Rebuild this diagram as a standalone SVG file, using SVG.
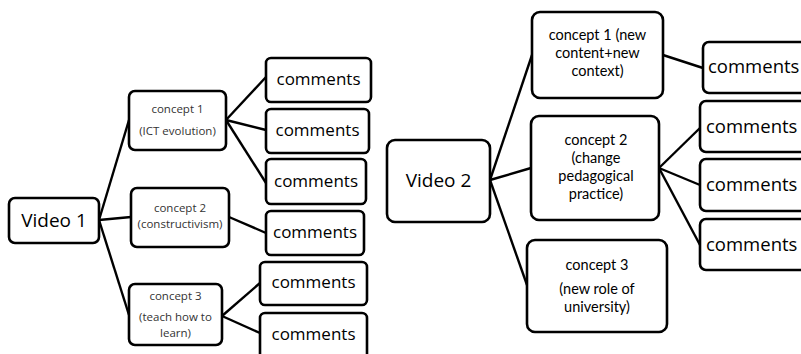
<svg xmlns="http://www.w3.org/2000/svg" width="801" height="354" viewBox="0 0 801 354">
<style>
.box{fill:#fff;stroke:#000;stroke-width:2.6}
.ln{stroke:#000;stroke-width:2.4;fill:none}
text{font-family:"Open Sans","Noto Sans","Liberation Sans",sans-serif;fill:#000;text-anchor:middle}
.vid{font-size:19px}
.cm{font-size:17px}
.cmr{font-size:18.5px;text-anchor:start}
.cs{font-size:11.5px;fill:#333}
.cl{font-family:Lato,"Open Sans",sans-serif;font-size:14.5px}
</style>
<rect width="801" height="354" fill="#fff"/>
<g id="connectors">
<line class="ln" x1="99" y1="220" x2="129" y2="120"/>
<line class="ln" x1="99" y1="220" x2="131" y2="217"/>
<line class="ln" x1="99" y1="220" x2="129" y2="315"/>
<line class="ln" x1="226" y1="120" x2="266" y2="77"/>
<line class="ln" x1="226" y1="120" x2="266" y2="130"/>
<line class="ln" x1="226" y1="120" x2="266" y2="183"/>
<line class="ln" x1="229" y1="217" x2="266" y2="233"/>
<line class="ln" x1="222" y1="316" x2="260" y2="283"/>
<line class="ln" x1="222" y1="316" x2="260" y2="333"/>
<line class="ln" x1="490" y1="180" x2="532" y2="55"/>
<line class="ln" x1="490" y1="180" x2="531" y2="168"/>
<line class="ln" x1="490" y1="180" x2="527" y2="285"/>
<line class="ln" x1="663" y1="55" x2="703" y2="68"/>
<line class="ln" x1="659" y1="168" x2="700" y2="128"/>
<line class="ln" x1="659" y1="168" x2="700" y2="185"/>
<line class="ln" x1="659" y1="168" x2="700" y2="245"/>
</g>
<g id="video1"><rect class="box" x="9" y="198" width="90" height="45" rx="6"/><text class="vid" x="54" y="227">Video 1</text></g>
<g id="v1-concept1"><rect class="box" x="129" y="91" width="97" height="59" rx="6"/><text class="cs" x="177.5" y="113">concept 1</text><text class="cs" x="177.5" y="135">(ICT evolution)</text></g>
<g id="v1-concept2"><rect class="box" x="131" y="188" width="98" height="59" rx="6"/><text class="cs" x="180" y="212">concept 2</text><text class="cs" x="180" y="228">(constructivism)</text></g>
<g id="v1-concept3"><rect class="box" x="129" y="284" width="93" height="61" rx="6"/><text class="cs" x="175.5" y="300">concept 3</text><text class="cs" x="175.5" y="321">(teach how to</text><text class="cs" x="175.5" y="337">learn)</text></g>
<g id="v1-c1-comments1"><rect class="box" x="266" y="58" width="105" height="44" rx="5"/><text class="cm" x="318.5" y="85">comments</text></g>
<g id="v1-c1-comments2"><rect class="box" x="266" y="109" width="103" height="44" rx="5"/><text class="cm" x="317.5" y="136">comments</text></g>
<g id="v1-c1-comments3"><rect class="box" x="266" y="159" width="100" height="45" rx="5"/><text class="cm" x="316" y="187">comments</text></g>
<g id="v1-c2-comments"><rect class="box" x="266" y="211" width="98" height="44" rx="5"/><text class="cm" x="315" y="238">comments</text></g>
<g id="v1-c3-comments1"><rect class="box" x="260" y="262" width="107" height="43" rx="5"/><text class="cm" x="313.5" y="288">comments</text></g>
<g id="v1-c3-comments2"><rect class="box" x="260" y="313" width="107" height="50" rx="5"/><text class="cm" x="313.5" y="340">comments</text></g>
<g id="video2"><rect class="box" x="387" y="140" width="103" height="82" rx="8"/><text class="vid" x="438.5" y="187">Video 2</text></g>
<g id="v2-concept1"><rect class="box" x="532" y="12" width="131" height="86" rx="8"/><text class="cl" x="597.5" y="40">concept 1 (new</text><text class="cl" x="597.5" y="58">content+new</text><text class="cl" x="597.5" y="76">context)</text></g>
<g id="v2-concept2"><rect class="box" x="531" y="116" width="128" height="104" rx="8"/><text class="cl" x="596" y="145">concept 2</text><text class="cl" x="596" y="163">(change</text><text class="cl" x="596" y="181">pedagogical</text><text class="cl" x="596" y="199">practice)</text></g>
<g id="v2-concept3"><rect class="box" x="527" y="240" width="140" height="92" rx="8"/><text class="cl" x="597" y="270">concept 3</text><text class="cl" x="597" y="294">(new role of</text><text class="cl" x="597" y="312">university)</text></g>
<g id="v2-c1-comments"><rect class="box" x="703" y="42" width="110" height="51" rx="6"/><text class="cmr" x="708" y="73">comments</text></g>
<g id="v2-c2-comments1"><rect class="box" x="700" y="101" width="113" height="51" rx="6"/><text class="cmr" x="706" y="133">comments</text></g>
<g id="v2-c2-comments2"><rect class="box" x="700" y="159" width="113" height="52" rx="6"/><text class="cmr" x="706" y="191">comments</text></g>
<g id="v2-c2-comments3"><rect class="box" x="700" y="219" width="113" height="51" rx="6"/><text class="cmr" x="706" y="251">comments</text></g>
</svg>
